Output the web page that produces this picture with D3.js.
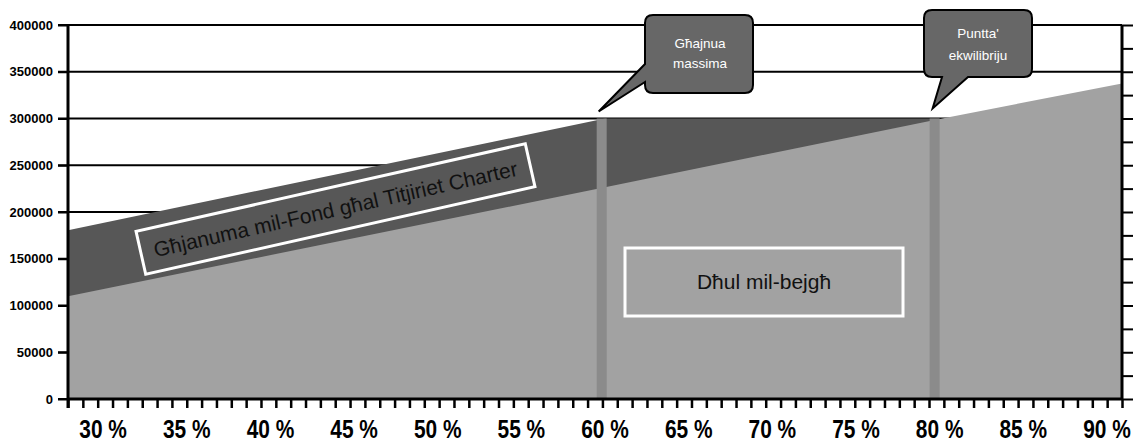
<!DOCTYPE html>
<html><head><meta charset="utf-8">
<script src="https://cdn.jsdelivr.net/npm/d3@7/dist/d3.min.js"></script>
<style>
html,body{margin:0;padding:0;background:#fff;}
svg{display:block;font-family:"Liberation Sans",Arial,Helvetica,sans-serif;}
</style></head>
<body>
<svg id="c" width="1136" height="443"></svg>
<script>
// ---- data ----
const occupancy = [27.9, 60, 80, 90.9];          // % occupancy sample points
const salesIncome = [110000, 226500, 299500, 337500]; // "Dħul mil-bejgħ"
const charterOcc = [27.9, 60, 80];
const charterIncome = [180500, 300000, 300000];  // top of charter income band
const markers = [59.8, 79.7];                    // max income / equilibrium
const markerTop = 300000;
const xDomain = [27.9, 90.9];
const xLabels = [30, 35, 40, 45, 50, 55, 60, 65, 70, 75, 80, 85, 90];
const yLabels = [0, 50000, 100000, 150000, 200000, 250000, 300000, 350000, 400000];
const yMinor = [0, 25000, 50000, 75000, 100000, 125000, 150000, 175000, 200000, 225000, 250000, 275000, 300000, 325000, 350000, 375000, 400000];
const callout1 = ["Għajnua", "massima"];
const callout2 = ["Puntta'", "ekwilibriju"];
const charterLabel = "Għjanuma mil-Fond għal Titjiriet Charter";
const salesLabel = "Dħul mil-bejgħ";

// ---- layout ----
const L = 68, R = 1122, T = 25, B = 399;
const svg = d3.select("#c");
const x = d3.scaleLinear().domain(xDomain).range([L, R]);
const y = d3.scaleLinear().domain([0, 400000]).range([B, T]);

// grid lines
svg.append("g").selectAll("line").data(yLabels).join("line")
  .attr("x1", 58).attr("x2", R).attr("y1", d => y(d)).attr("y2", d => y(d))
  .attr("stroke", "#000").attr("stroke-width", 2);

// dark charter area
const area = d3.area().x(d => x(d[0])).y0(y(0)).y1(d => y(d[1]));
svg.append("path").datum(charterOcc.map((o, i) => [o, charterIncome[i]]))
  .attr("d", area).attr("fill", "#575757");
// light sales area
svg.append("path").datum(occupancy.map((o, i) => [o, salesIncome[i]]))
  .attr("d", area).attr("fill", "#a2a2a2");

// vertical marker bands
svg.append("g").selectAll("rect").data(markers).join("rect")
  .attr("x", d => x(d) - 5).attr("width", 10)
  .attr("y", y(markerTop)).attr("height", y(0) - y(markerTop))
  .attr("fill", "#8b8b8b");

// left axis
const yAxis = d3.axisLeft(y).tickValues(yLabels).tickSize(10).tickPadding(5)
  .tickFormat(d3.format("d"));
const gy = svg.append("g").attr("transform", `translate(${L},0)`).call(yAxis);
gy.select(".domain").attr("stroke-width", 3).attr("d", `M0,${T}V${B + 9}`);
gy.selectAll(".tick line").attr("stroke-width", 2);
gy.selectAll(".tick text").attr("font-size", 13).attr("font-weight", "bold")
  .attr("fill", "#000").attr("font-family", "Liberation Sans, Arial, sans-serif");

// right axis
const yAxisR = d3.axisRight(y).tickValues(yMinor).tickSize(11).tickFormat("");
const gr = svg.append("g").attr("transform", `translate(${R},0)`).call(yAxisR);
gr.select(".domain").attr("stroke-width", 3).attr("d", `M0,${T}V${B}`);
gr.selectAll(".tick line").attr("stroke-width", 2);

// bottom axis: minor ticks
const nTicks = 71;
const minorTicks = d3.range(nTicks + 1).map(i => xDomain[0] + i * (xDomain[1] - xDomain[0]) / nTicks);
const xAxis = d3.axisBottom(x).tickValues(minorTicks).tickSize(9).tickFormat("");
const gx = svg.append("g").attr("transform", `translate(0,${B})`).call(xAxis);
gx.select(".domain").attr("stroke-width", 3).attr("d", `M${L},0H${R}`);
gx.selectAll(".tick line").attr("stroke-width", 2.5);
// labels (condensed via horizontal scale)
svg.append("g").selectAll("text").data(xLabels).join("text")
  .attr("transform", d => `translate(${x(d)},438) scale(0.82,1)`)
  .attr("text-anchor", "middle")
  .attr("font-size", 25.5).attr("font-weight", "bold").attr("fill", "#000")
  .text(d => d + " %");

// rotated charter label box
const rot = svg.append("g").attr("transform", "translate(335.5,209) rotate(-12.7)");
rot.append("rect").attr("x", -199.5).attr("y", -22).attr("width", 399).attr("height", 44)
  .attr("fill", "none").attr("stroke", "#fff").attr("stroke-width", 3);
rot.append("text").attr("x", 0).attr("y", 7.5).attr("text-anchor", "middle")
  .attr("font-size", 21).attr("fill", "#111").text(charterLabel);

// sales label box
svg.append("rect").attr("x", 625).attr("y", 248).attr("width", 278).attr("height", 68)
  .attr("fill", "none").attr("stroke", "#fff").attr("stroke-width", 3);
svg.append("text").attr("x", 764).attr("y", 289).attr("text-anchor", "middle")
  .attr("font-size", 21).attr("fill", "#111").text(salesLabel);

// callouts
const r = 8;
function calloutLeft(bl, bt, br, bb, ty1, ty2, tip) {
  return `M${bl + r},${bt}H${br - r}Q${br},${bt} ${br},${bt + r}V${bb - r}Q${br},${bb} ${br - r},${bb}` +
    `H${bl + r}Q${bl},${bb} ${bl},${bb - r}V${ty2}L${tip[0]},${tip[1]}L${bl},${ty1}V${bt + r}Q${bl},${bt} ${bl + r},${bt}Z`;
}
function calloutBottom(bl, bt, br, bb, tx1, tx2, tip) {
  return `M${bl + r},${bt}H${br - r}Q${br},${bt} ${br},${bt + r}V${bb - r}Q${br},${bb} ${br - r},${bb}` +
    `H${tx2}L${tip[0]},${tip[1]}L${tx1},${bb}H${bl + r}Q${bl},${bb} ${bl},${bb - r}V${bt + r}Q${bl},${bt} ${bl + r},${bt}Z`;
}
const tip1 = [x(markers[0]) - 3, y(markerTop) - 7];
const tip2 = [x(markers[1]) - 2, y(markerTop) - 10];
svg.append("path").attr("d", calloutLeft(645, 15, 753, 93, 64, 82, tip1))
  .attr("fill", "#676767").attr("stroke", "#000").attr("stroke-width", 2);
svg.append("path").attr("d", calloutBottom(924, 10, 1032, 77, 942, 968, tip2))
  .attr("fill", "#676767").attr("stroke", "#000").attr("stroke-width", 2);
svg.append("g").selectAll("text").data(callout1).join("text")
  .attr("x", 700).attr("y", (d, i) => 47.5 + i * 20).attr("text-anchor", "middle")
  .attr("font-size", 13.5).attr("fill", "#fff").text(d => d);
svg.append("g").selectAll("text").data(callout2).join("text")
  .attr("x", 978).attr("y", (d, i) => 37.5 + i * 22).attr("text-anchor", "middle")
  .attr("font-size", 13.5).attr("fill", "#fff").text(d => d);
</script>
</body></html>
